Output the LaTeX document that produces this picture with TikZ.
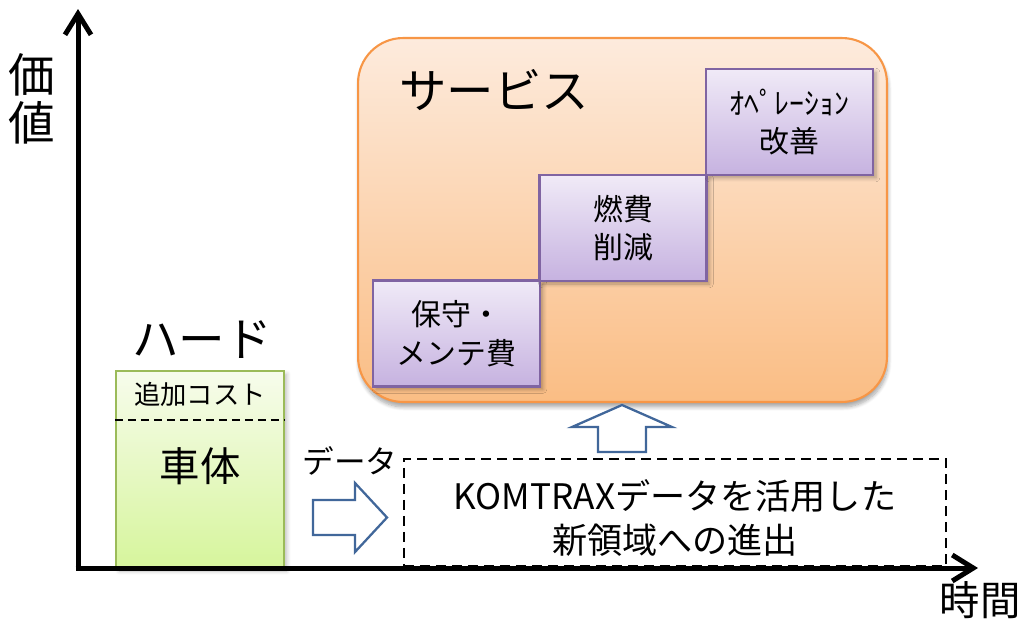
\documentclass[tikz,border=0pt]{standalone}
\usepackage{fontspec}
\setmainfont{Noto Sans CJK JP}
\usetikzlibrary{arrows.meta,shadows.blur}
\definecolor{orBorder}{HTML}{F79646}
\definecolor{orTop}{HTML}{FDEBDD}
\definecolor{orBot}{HTML}{FABD84}
\definecolor{puBorder}{HTML}{8064A2}
\definecolor{puTop}{HTML}{F0EAF7}
\definecolor{puBot}{HTML}{C6B2E0}
\definecolor{grBorder}{HTML}{9BBB59}
\definecolor{grTop}{HTML}{F7FCEC}
\definecolor{grBot}{HTML}{D6F59C}
\definecolor{arBorder}{HTML}{41679A}
\tikzset{
  axis/.style={line width=0.1cm,-{Straight Barb[length=0.42cm,width=0.52cm,line width=0.1cm]}},
  servicebox/.style={draw=orBorder,line width=1.2pt,rounded corners=0.9cm,top color=orTop,bottom color=orBot,
     minimum width=10.58cm,minimum height=7.28cm,inner sep=0pt,
     blur shadow={shadow xshift=0.02cm,shadow yshift=-0.1cm,shadow opacity=35,shadow blur steps=8}},
  stepbox/.style={draw=puBorder,line width=1.2pt,top color=puTop,bottom color=puBot,
     minimum width=3.34cm,minimum height=2.12cm,inner sep=0pt,align=center,
     font=\fontsize{17pt}{22pt}\selectfont,
     blur shadow={shadow xshift=0.06cm,shadow yshift=-0.06cm,shadow opacity=30,shadow blur steps=5}},
  hardbox/.style={draw=grBorder,line width=1.2pt,top color=grTop,bottom color=grBot,
     minimum width=3.36cm,minimum height=3.94cm,inner sep=0pt,
     blur shadow={shadow xshift=0.06cm,shadow yshift=-0.06cm,shadow opacity=25,shadow blur steps=5}},
  blockarrow/.style={draw=arBorder,line width=1.3pt,fill=white,line join=miter},
  dashbox/.style={draw=black,line width=1.3pt,dash pattern=on 0.2cm off 0.12cm,
     minimum width=10.84cm,minimum height=2.14cm,inner sep=0pt},
  lbl/.style={inner sep=0pt,align=center}
}
\begin{document}
\begin{tikzpicture}[x=0.02cm,y=-0.02cm]
\useasboundingbox (0,0) rectangle (1023,619);
% service box
\node[servicebox] (svc) at (622.5,220) {};
\node[lbl,font=\fontsize{27pt}{30pt}\selectfont] (svct) at (494,90) {サービス};
\node[stepbox] (s1) at (456.5,333.5) {保守・\\メンテ費};
\node[stepbox] (s2) at (623,228) {燃費\\削減};
\node[stepbox] (s3) at (789.5,122) {ｵﾍﾟﾚｰｼｮﾝ\\改善};
% hard box
\node[hardbox] (hw) at (200,469.5) {};
\draw[line width=1.2pt,dash pattern=on 0.16cm off 0.1cm] (hw.west |- 0,420) -- (hw.east |- 0,420);
\node[lbl,font=\fontsize{15pt}{18pt}\selectfont] (add) at (200,394) {追加コスト};
\node[lbl,font=\fontsize{23pt}{26pt}\selectfont] (body) at (200,466) {車体};
\node[lbl,font=\fontsize{26.5pt}{30pt}\selectfont] (hard) at (202,340) {ハード};
% dashed box
\node[dashbox] (kom) at (675,512.5) {};
\node[lbl,font=\fontsize{20pt}{25.5pt}\selectfont] (komt) at (675,518) {KOMTRAXデータを活用した\\新領域への進出};
% data arrow
\node[lbl,font=\fontsize{18pt}{20pt}\selectfont] (data) at (350,461) {データ};
\draw[blockarrow] (313,500) -- (355,500) -- (355,483) -- (387,517.5) -- (355,552) -- (355,535) -- (313,535) -- cycle;
% up arrow
\draw[blockarrow] (598,452) -- (598,427) -- (572,427) -- (622,405) -- (672,427) -- (646,427) -- (646,452) -- cycle;
% axes
\coordinate (org) at (78,570.5);
\coordinate (ytop) at (78,9);
\coordinate (xend) at (978,568);
\draw[axis] (org) -- (ytop);
\draw[axis] (75.5,568) -- (xend);
\node[lbl,font=\fontsize{26.5pt}{27pt}\selectfont] (val) at (32,99) {価\\値};
\node[lbl,font=\fontsize{23pt}{26pt}\selectfont] (time) at (980,600) {時間};
\end{tikzpicture}
\end{document}
